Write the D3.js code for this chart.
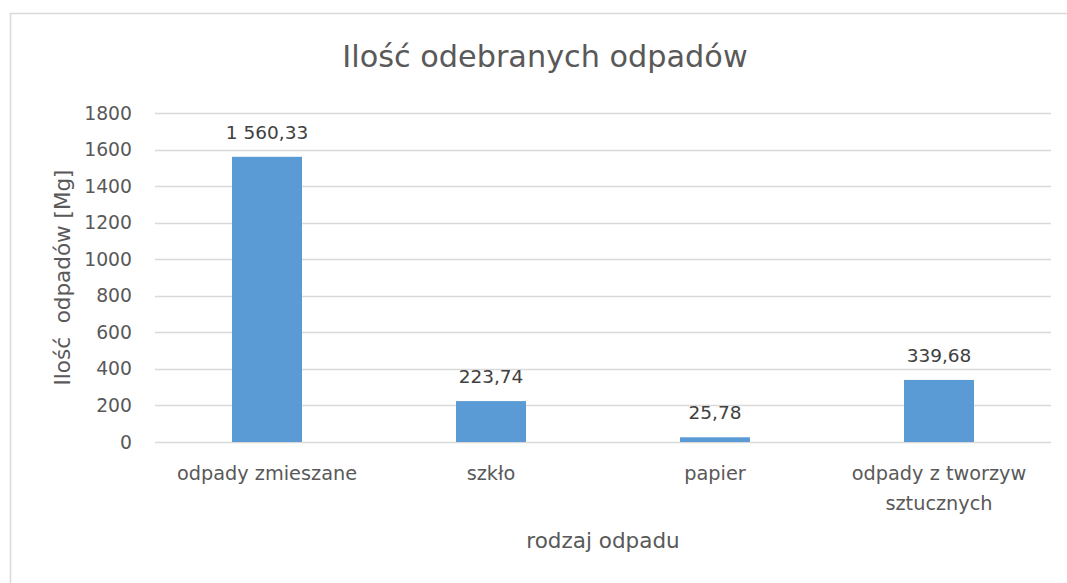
<!DOCTYPE html>
<html>
<head>
<meta charset="utf-8">
<script src="https://cdn.jsdelivr.net/npm/d3@7"></script>
<style>
  body { margin: 0; background: #fff; }
  svg { display: block; font-family: "DejaVu Sans", sans-serif; }
</style>
</head>
<body>
<div id="chart"></div>
<script>
// Chart data
const categories = ["odpady zmieszane", "szkło", "papier", "odpady z tworzyw sztucznych"];
const values = [1560.33, 223.74, 25.78, 339.68];
const yTicks = [0, 200, 400, 600, 800, 1000, 1200, 1400, 1600, 1800];

const title = "Ilość odebranych odpadów",
      yTitle = "Ilość  odpadów [Mg]",
      xTitle = "rodzaj odpadu";

// Constant dimensions
const width = 1067, height = 583;
const margin = { top: 113, right: 16, bottom: 141, left: 155 };

const pl = d3.formatLocale({ decimal: ",", thousands: "\u00a0", grouping: [3], currency: ["", " zł"] });
const fmt = pl.format(",.2f");

const svg = d3.select("#chart").append("svg")
    .attr("width", width)
    .attr("height", height);

// Chart border
svg.append("rect")
    .attr("x", 10.5).attr("y", 13.5)
    .attr("width", width).attr("height", height)
    .attr("fill", "#fff")
    .attr("stroke", "#d9d9d9")
    .attr("stroke-width", 1.5);

const x = d3.scaleBand()
    .domain(categories)
    .range([margin.left, width - margin.right])
    .paddingInner(0.6875)
    .paddingOuter(0.34375);

const y = d3.scaleLinear()
    .domain([0, 1800])
    .range([height - margin.bottom, margin.top]);

// Gridlines
svg.append("g")
    .selectAll("line")
    .data(yTicks)
    .join("line")
    .attr("x1", margin.left)
    .attr("x2", width - margin.right)
    .attr("y1", d => Math.round(y(d)) + 0.5)
    .attr("y2", d => Math.round(y(d)) + 0.5)
    .attr("stroke", "#d9d9d9")
    .attr("stroke-width", 1.3);

// Y axis labels
const yAxis = svg.append("g")
    .attr("transform", `translate(${margin.left},0)`)
    .call(d3.axisLeft(y).tickValues(yTicks).tickSize(0).tickPadding(23).tickFormat(d3.format("d")));
yAxis.select(".domain").remove();
yAxis.selectAll("text")
    .attr("fill", "#595959")
    .attr("font-size", 18.8)
    .attr("font-family", "DejaVu Sans, sans-serif");

// Bars
svg.append("g")
    .selectAll("rect")
    .data(values)
    .join("rect")
    .attr("x", (d, i) => x(categories[i]))
    .attr("y", d => y(d))
    .attr("width", x.bandwidth())
    .attr("height", d => y(0) - y(d))
    .attr("fill", "#5b9bd5");

// Data labels
svg.append("g")
    .attr("text-anchor", "middle")
    .attr("font-size", 18.5)
    .attr("fill", "#404040")
    .selectAll("text")
    .data(values)
    .join("text")
    .attr("x", (d, i) => x(categories[i]) + x.bandwidth() / 2)
    .attr("y", d => y(d) - 18)
    .text(d => fmt(d));

// X axis labels, wrapped to the band step
const xAxis = svg.append("g")
    .attr("transform", `translate(0,${y(0)})`)
    .call(d3.axisBottom(x).tickSize(0).tickPadding(0));
xAxis.select(".domain").remove();
xAxis.selectAll("text")
    .attr("fill", "#595959")
    .attr("font-size", 19.3)
    .attr("font-family", "DejaVu Sans, sans-serif")
    .attr("y", 38)
    .attr("dy", null)
    .each(function() { wrap(d3.select(this), x.step() - 10); });

function wrap(text, maxWidth) {
    const words = text.text().split(/\s+/);
    const yPos = text.attr("y");
    text.text(null);
    let line = [];
    let lineNo = 0;
    let tspan = text.append("tspan").attr("x", 0).attr("y", yPos);
    for (const w of words) {
        line.push(w);
        tspan.text(line.join(" "));
        if (tspan.node().getComputedTextLength() > maxWidth && line.length > 1) {
            line.pop();
            tspan.text(line.join(" "));
            line = [w];
            lineNo++;
            tspan = text.append("tspan").attr("x", 0).attr("y", +yPos + lineNo * 30).text(w);
        }
    }
}

// Title
svg.append("text")
    .attr("x", 545)
    .attr("y", 67)
    .attr("text-anchor", "middle")
    .attr("font-size", 30.3)
    .attr("fill", "#595959")
    .text(title);

// Axis titles
svg.append("text")
    .attr("x", (margin.left + width - margin.right) / 2)
    .attr("y", 548)
    .attr("text-anchor", "middle")
    .attr("font-size", 21.5)
    .attr("fill", "#595959")
    .text(xTitle);

svg.append("text")
    .attr("transform", `translate(70,${(y(0) + y(1800)) / 2}) rotate(-90)`)
    .attr("text-anchor", "middle")
    .attr("font-size", 21.5)
    .attr("fill", "#595959")
    .style("white-space", "pre")
    .text(yTitle);
</script>
</body>
</html>
